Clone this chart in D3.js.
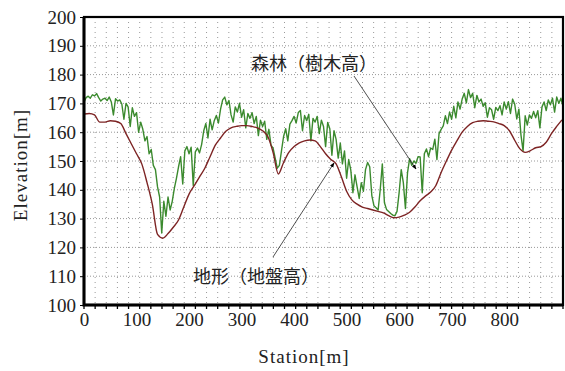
<!DOCTYPE html>
<html>
<head>
<meta charset="utf-8">
<script src="https://cdn.jsdelivr.net/npm/d3@7"></script>
<style>
  body { margin: 0; background: #fff; }
  svg { display: block; }
  .serif { font-family: "Liberation Serif", "Times New Roman", Times, "DejaVu Serif", "Noto Serif", "Noto Serif CJK JP", serif; }
</style>
</head>
<body>
<svg width="565" height="371"></svg>
<script>
// terrain (ground height), every 10 m
const terrainStation = d3.range(0, 920, 10);
const terrain = [
  166.3, 166.5, 166, 163.5, 163.5, 164, 163.8, 163, 159.5, 156,
  152.5, 149, 142.5, 135, 124.5, 123.2, 124.8, 127, 129.5, 134,
  138.5, 141.5, 144.5, 147.5, 151.5, 155.5, 158, 160.3, 161.5, 162,
  162.3, 162.3, 162, 161.5, 160.5, 158.5, 153, 145.5, 149.5, 153,
  155, 156.3, 157, 157.3, 157, 155, 152.5, 150.5, 149, 144.5,
  139.5, 136.5, 135, 134, 133.5, 133, 132.5, 132, 131, 130.3,
  130.5, 131.2, 132.2, 134, 136.2, 137.8, 139.2, 141.5, 146, 150,
  153.8, 157, 160, 162, 163.3, 163.8, 164, 163.8, 163.6, 163,
  162.3, 160.5, 157.2, 154.2, 153, 153.6, 154.6, 155, 156.5, 159.5,
  162, 164.3
];

// forest (tree height), every 4 m
const forestStation = d3.range(0, 916, 4);
const forest = [
  170.5, 172, 172.5, 171.8, 173, 172.6, 173.4, 172, 170.8, 171.5,
  171.8, 171, 172.2, 170.5, 166, 171.6, 170.8, 171.2, 169.8, 164.5,
  170, 168.8, 162, 168.5, 165.5, 166.8, 160, 163.5, 161, 157,
  158.5, 152.5, 154, 148.5, 147, 141, 137.5, 125, 136, 130.8,
  137.5, 133, 136, 140.5, 144, 148, 151.5, 142, 153.5, 155,
  152.5, 154.8, 141.5, 153.2, 154.5, 152.8, 155.8, 160.5, 163, 158,
  164.5, 160.8, 164, 165.8, 163.2, 168, 171.2, 172.2, 169.5, 171,
  166, 163.5, 168.8, 167, 170, 165.2, 167.8, 161.5, 166.5, 164.8,
  166.8, 163, 165.5, 158.8, 164.2, 162, 163.8, 157.5, 161, 155.5,
  154.5, 151, 147.5, 148.5, 153.5, 158.5, 161.2, 157, 162.8, 164,
  165.5, 163.2, 166.8, 167.5, 160.5, 165.8, 164, 166.2, 157, 164.8,
  163.5, 165.5, 159.5, 164.2, 162, 155, 163.4, 161.2, 152, 160.5,
  157.5, 151, 156.2, 149, 153.5, 144, 150.5, 146.8, 139, 145.2,
  141, 137, 142.5, 139.5, 147, 149.5, 148, 138, 134.5, 133.8,
  133, 140, 149, 135.5, 133.2, 132.5, 131.8, 131.2, 131, 132.5,
  139, 147, 142.5, 133.5, 146, 150.8, 148.5, 150, 149.2, 151.5,
  151.4, 139, 152.5, 154.2, 151.5, 154.5, 154, 157.6, 150.5, 159.5,
  161, 162.2, 165.7, 163, 167, 164.5, 169, 165, 170.5, 168,
  171.5, 173.5, 170.2, 174.8, 172, 173.5, 168.5, 172.8, 170.5, 171.5,
  169, 170.2, 165.2, 168.5, 167.8, 164.5, 168.6, 167.5, 169.2, 166,
  170.5, 168, 170.6, 166.5, 171.5, 169.8, 164.6, 168, 159, 153.5,
  165.7, 162.5, 166, 164.8, 167.2, 165, 167.5, 161.5, 168.8, 170.5,
  167.5, 171.2, 169.5, 171.8, 167, 172.2, 170, 171.8, 169
];

const xLabels = [0, 100, 200, 300, 400, 500, 600, 700, 800];
const yLabels = [100, 110, 120, 130, 140, 150, 160, 170, 180, 190, 200];

const svg = d3.select('svg');
const margin = {top: 17, right: 2, bottom: 66, left: 84};
const width = 565 - margin.left - margin.right;
const height = 371 - margin.top - margin.bottom;

const x = d3.scaleLinear().domain([0, 912]).range([0, width]);
const y = d3.scaleLinear().domain([100, 200]).range([height, 0]);
// the vertical grid is split in 43 equal parts
const gx = d3.scaleLinear().domain([0, 43]).range([0, width]);

const g = svg.append('g')
  .attr('transform', 'translate(' + margin.left + ',' + margin.top + ')');

// grid
g.selectAll('.vgrid')
  .data(d3.range(1, 43))
  .enter().append('line')
  .attr('class', 'vgrid')
  .attr('x1', d => gx(d)).attr('x2', d => gx(d))
  .attr('y1', 0).attr('y2', height)
  .attr('stroke', '#999')
  .attr('stroke-width', 1)
  .attr('stroke-dasharray', '1,4');

g.selectAll('.hgrid')
  .data(yLabels.slice(1, -1))
  .enter().append('line')
  .attr('class', 'hgrid')
  .attr('x1', 0).attr('x2', width)
  .attr('y1', d => y(d)).attr('y2', d => y(d))
  .attr('stroke', '#999')
  .attr('stroke-width', 1)
  .attr('stroke-dasharray', '1,2');

// lines
g.append('clipPath').attr('id', 'clip')
  .append('rect').attr('width', width).attr('height', height);

const line = d3.line()
  .x(d => x(d[0]))
  .y(d => y(d[1]));

g.append('path')
  .datum(d3.zip(forestStation, forest))
  .attr('clip-path', 'url(#clip)')
  .attr('fill', 'none')
  .attr('stroke', '#3b8a2e')
  .attr('stroke-width', 1.4)
  .attr('stroke-linejoin', 'round')
  .attr('d', line);

g.append('path')
  .datum(d3.zip(terrainStation, terrain))
  .attr('clip-path', 'url(#clip)')
  .attr('fill', 'none')
  .attr('stroke', '#7d2424')
  .attr('stroke-width', 1.4)
  .attr('d', line.curve(d3.curveMonotoneX));

// bottom tick marks
g.selectAll('.xtick')
  .data(d3.range(0, 44))
  .enter().append('line')
  .attr('class', 'xtick')
  .attr('x1', d => gx(d)).attr('x2', d => gx(d))
  .attr('y1', height).attr('y2', height + 4)
  .attr('stroke', '#000')
  .attr('stroke-width', 1.3);

// axes
const yAxis = g.append('g')
  .call(d3.axisLeft(y).tickValues(yLabels).tickSize(4).tickPadding(4).tickSizeOuter(0));
yAxis.attr('font-family', null).attr('font-size', null);
yAxis.select('.domain').remove();
yAxis.selectAll('text').attr('class', 'serif').style('font-size', '19px').attr('fill', '#222');

const xAxis = g.append('g')
  .attr('transform', 'translate(0,' + height + ')')
  .call(d3.axisBottom(x).tickValues(xLabels).tickSize(0).tickPadding(8));
xAxis.attr('font-family', null).attr('font-size', null);
xAxis.select('.domain').remove();
xAxis.selectAll('line').remove();
xAxis.selectAll('text').attr('class', 'serif').style('font-size', '19px').attr('fill', '#222');

// frame
g.append('rect')
  .attr('width', width).attr('height', height)
  .attr('fill', 'none')
  .attr('stroke', '#000')
  .attr('stroke-width', 2.2);
g.append('path')
  .attr('d', 'M0,0V' + height + 'H' + width)
  .attr('fill', 'none')
  .attr('stroke', '#000')
  .attr('stroke-width', 3);

// axis titles
svg.append('text')
  .attr('class', 'serif')
  .attr('x', 304)
  .attr('y', 363)
  .attr('text-anchor', 'middle')
  .style('font-size', '19px').style('letter-spacing', '1px').attr('fill', '#222')
  .text('Station[m]');

svg.append('text')
  .attr('class', 'serif')
  .attr('transform', 'translate(27,' + (margin.top + height / 2 + 4) + ') rotate(-90)')
  .attr('text-anchor', 'middle')
  .style('font-size', '19px').style('letter-spacing', '1px').attr('fill', '#222')
  .text('Elevation[m]');

// annotations
const jp = '"Noto Sans CJK JP", sans-serif';

svg.append('text')
  .attr('x', 314).attr('y', 70)
  .attr('text-anchor', 'middle')
  .style('font-family', jp).style('font-size', '18px').attr('fill', '#222')
  .text('森林（樹木高）');

svg.append('text')
  .attr('x', 256).attr('y', 283)
  .attr('text-anchor', 'middle')
  .style('font-family', jp).style('font-size', '18px').attr('fill', '#222')
  .text('地形（地盤高）');

svg.append('defs').append('marker')
  .attr('id', 'arr')
  .attr('viewBox', '0 0 10 10')
  .attr('refX', 9).attr('refY', 5)
  .attr('markerWidth', 6).attr('markerHeight', 6)
  .attr('orient', 'auto')
  .append('path').attr('d', 'M0,1L10,5L0,9Z').attr('fill', '#000');

svg.append('line')
  .attr('x1', 354).attr('y1', 76).attr('x2', 416).attr('y2', 169)
  .attr('stroke', '#222').attr('stroke-width', 0.8)
  .attr('marker-end', 'url(#arr)');

svg.append('line')
  .attr('x1', 273).attr('y1', 257).attr('x2', 334).attr('y2', 163)
  .attr('stroke', '#222').attr('stroke-width', 0.8)
  .attr('marker-end', 'url(#arr)');
</script>
</body>
</html>
